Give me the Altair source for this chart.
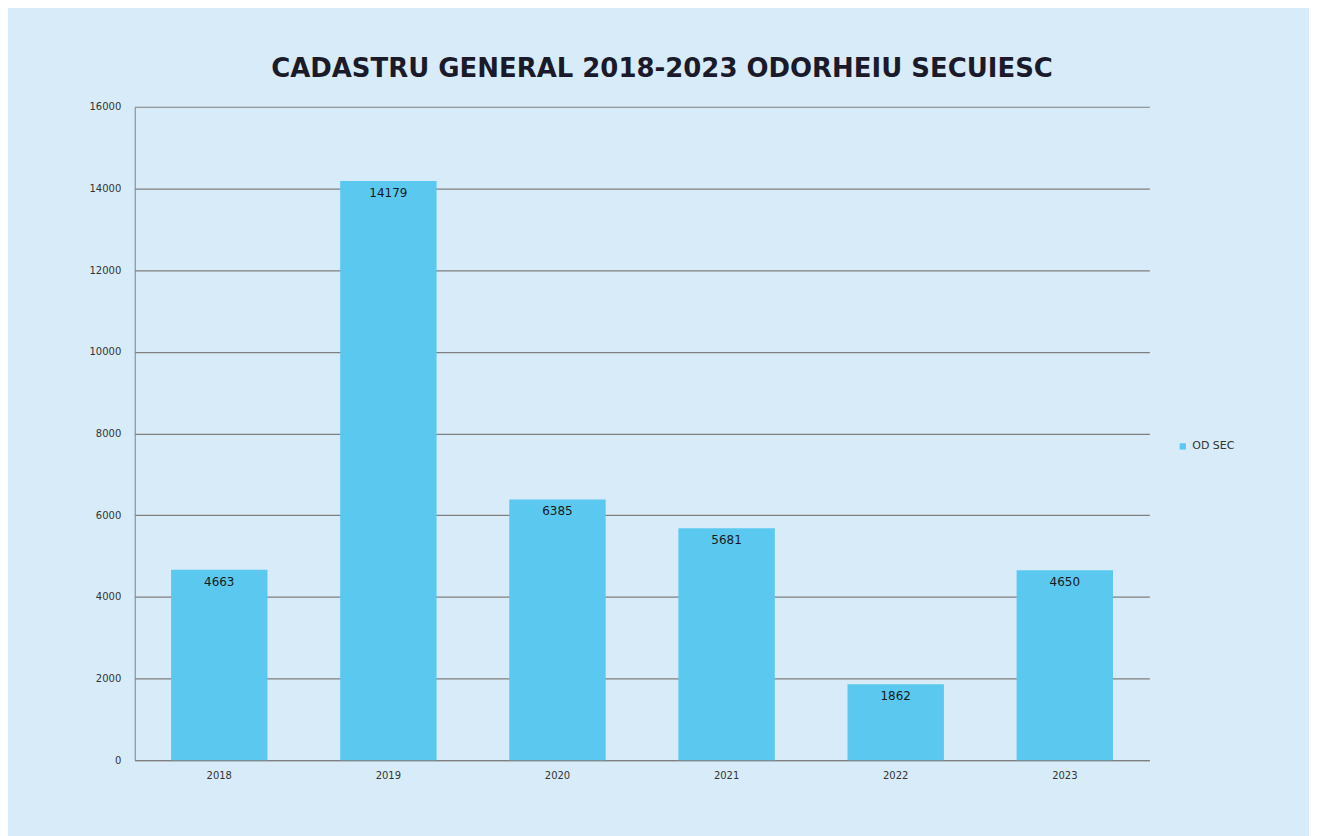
import altair as alt
import pandas as pd

years = ["2018", "2019", "2020", "2021", "2022", "2023"]
values = [4663, 14179, 6385, 5681, 1862, 4650]
series = ["OD SEC"] * 6

df = pd.DataFrame({"year": years, "value": values, "series": series})

base = alt.Chart(df)

bars = base.mark_bar(color="#5bc8f0").encode(
    x=alt.X("year:N", title=None, sort=years,
            scale=alt.Scale(paddingInner=0.43, paddingOuter=0.215),
            axis=alt.Axis(labelAngle=0, labelFontSize=10, labelColor="#333333",
                          labelFont="DejaVu Sans", ticks=False,
                          domainColor="#7f7f7f", labelPadding=10)),
    y=alt.Y("value:Q", title=None,
            scale=alt.Scale(domain=[0, 16000]),
            axis=alt.Axis(values=list(range(0, 16001, 2000)), format="d",
                          labelFontSize=10, labelColor="#333333",
                          labelFont="DejaVu Sans",
                          ticks=False, domainColor="#7f7f7f", gridColor="#7f7f7f",
                          gridWidth=1.2, labelPadding=14)),
    fill=alt.Fill("series:N", scale=alt.Scale(range=["#5bc8f0"]),
                  legend=alt.Legend(title=None, orient="none", legendX=1045, legendY=335,
                                    symbolType="square", symbolSize=40,
                                    labelFontSize=11, labelColor="#333333",
                                    labelFont="DejaVu Sans")),
)

labels = base.mark_text(baseline="top", dy=7, fontSize=12, color="#1a1a1a",
                        font="DejaVu Sans").encode(
    x=alt.X("year:N", sort=years),
    y="value:Q",
    text="value:Q",
)

chart = (bars + labels).properties(
    width=1017,
    height=655,
    autosize=alt.AutoSizeParams(type="none"),
    padding={"left": 127, "top": 98, "right": 160, "bottom": 75},
    background="#d8ebf8",
    title=alt.TitleParams("CADASTRU GENERAL 2018-2023 ODORHEIU SECUIESC",
                          fontSize=26, font="DejaVu Sans", fontWeight="bold",
                          color="#1a1a2a", offset=20, dx=20),
).configure_view(stroke=None)

chart.save("out.html", embed_options={"renderer": "svg", "actions": False})
